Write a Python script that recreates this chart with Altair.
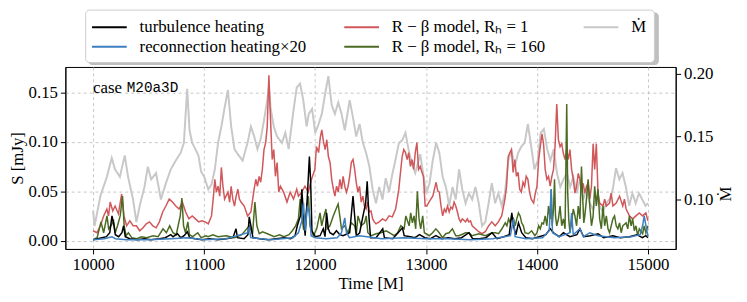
import altair as alt
import pandas as pd

# ---------------- data ----------------
mdot_t = [10000, 10013, 10066, 10124, 10168, 10197, 10241, 10285, 10315, 10360, 10390, 10420, 10463, 10493,
          10523, 10567, 10611, 10656, 10700, 10745, 10789, 10818, 10848, 10869, 10893, 10922, 10949, 10974,
          11002, 11038, 11067, 11097, 11126, 11156, 11185, 11215, 11244, 11274, 11304, 11347, 11392, 11422,
          11452, 11481, 11510, 11540, 11569, 11584, 11599, 11628, 11658, 11702, 11732, 11762, 11806, 11835,
          11865, 11894, 11924, 11943, 11973, 12002, 12032, 12061, 12091, 12120, 12150, 12179, 12209, 12239,
          12268, 12312, 12342, 12371, 12401, 12431, 12460, 12490, 12519, 12549, 12578, 12608, 12637, 12667,
          12696, 12726, 12756, 12785, 12815, 12844, 12874, 12903, 12948, 12975, 13002, 13032, 13061, 13091,
          13120, 13150, 13179, 13209, 13239, 13268, 13298, 13327, 13357, 13386, 13416, 13445, 13475, 13505,
          13534, 13564, 13593, 13623, 13652, 13682, 13711, 13741, 13770, 13800, 13830, 13859, 13889, 13918,
          13948, 13977, 14007, 14033, 14062, 14092, 14121, 14151, 14180, 14210, 14239, 14269, 14299, 14328,
          14358, 14387, 14417, 14446, 14476, 14505, 14535, 14564, 14594, 14623, 14653, 14683, 14712, 14742,
          14771, 14801, 14831, 14860, 14890, 14919, 14949, 14978, 15000]
mdot_v = [0.091, 0.079, 0.103, 0.118, 0.133, 0.124, 0.118, 0.135, 0.118, 0.100, 0.082, 0.095, 0.110, 0.126,
          0.116, 0.121, 0.100, 0.113, 0.124, 0.131, 0.137, 0.145, 0.188, 0.155, 0.145, 0.140, 0.135, 0.122,
          0.118, 0.108, 0.112, 0.124, 0.145, 0.158, 0.173, 0.187, 0.158, 0.140, 0.136, 0.131, 0.145, 0.158,
          0.150, 0.140, 0.148, 0.163, 0.179, 0.190, 0.173, 0.158, 0.150, 0.145, 0.153, 0.140, 0.171, 0.189,
          0.192, 0.179, 0.158, 0.168, 0.172, 0.153, 0.160, 0.168, 0.184, 0.198, 0.175, 0.168, 0.177, 0.168,
          0.155, 0.179, 0.165, 0.150, 0.160, 0.145, 0.137, 0.126, 0.108, 0.097, 0.110, 0.100, 0.117, 0.106,
          0.120, 0.132, 0.145, 0.147, 0.153, 0.139, 0.128, 0.121, 0.136, 0.120, 0.105, 0.113, 0.131, 0.145,
          0.137, 0.118, 0.110, 0.095, 0.110, 0.100, 0.124, 0.108, 0.097, 0.105, 0.100, 0.110, 0.097, 0.079,
          0.082, 0.097, 0.113, 0.097, 0.105, 0.095, 0.105, 0.131, 0.139, 0.126, 0.137, 0.142, 0.145, 0.160,
          0.142, 0.124, 0.131, 0.153, 0.156, 0.140, 0.131, 0.140, 0.121, 0.110, 0.116, 0.121, 0.110, 0.118,
          0.105, 0.116, 0.100, 0.108, 0.097, 0.092, 0.102, 0.095, 0.090, 0.097, 0.100, 0.108, 0.125, 0.116,
          0.121, 0.110, 0.095, 0.105, 0.097, 0.105, 0.100, 0.095, 0.097]

rb1_t = [10000, 10035, 10065, 10095, 10124, 10139, 10154, 10177, 10198, 10228, 10257, 10278, 10302, 10331,
         10361, 10390, 10420, 10450, 10479, 10508, 10538, 10568, 10597, 10627, 10656, 10686, 10715, 10745,
         10775, 10804, 10834, 10863, 10893, 10922, 10952, 10981, 11010, 11038, 11067, 11082, 11097, 11111,
         11126, 11141, 11156, 11170, 11185, 11215, 11230, 11244, 11259, 11274, 11289, 11304, 11318, 11333,
         11362, 11392, 11422, 11451, 11466, 11481, 11496, 11510, 11525, 11540, 11555, 11569, 11584, 11599,
         11614, 11628, 11643, 11658, 11673, 11688, 11717, 11747, 11776, 11806, 11835, 11850, 11880, 11909,
         11939, 11968, 11998, 12013, 12032, 12047, 12061, 12076, 12091, 12106, 12120, 12135, 12150, 12165,
         12179, 12194, 12209, 12224, 12239, 12253, 12268, 12283, 12298, 12312, 12327, 12342, 12357, 12371,
         12386, 12401, 12416, 12431, 12445, 12460, 12475, 12490, 12504, 12519, 12534, 12549, 12578, 12608,
         12637, 12667, 12696, 12726, 12741, 12755, 12770, 12785, 12800, 12815, 12830, 12844, 12859, 12874,
         12889, 12903, 12918, 12933, 12948, 12963, 12977, 12992, 13007, 13032, 13061, 13076, 13091, 13106,
         13120, 13135, 13150, 13165, 13179, 13194, 13209, 13224, 13239, 13253, 13268, 13283, 13298, 13312,
         13327, 13357, 13372, 13386, 13401, 13416, 13445, 13475, 13505, 13534, 13564, 13593, 13623, 13652,
         13682, 13711, 13726, 13741, 13756, 13770, 13785, 13800, 13815, 13830, 13844, 13859, 13874, 13889,
         13903, 13918, 13933, 13948, 13970, 13985, 14000, 14015, 14030, 14045, 14059, 14074, 14089, 14104,
         14119, 14134, 14149, 14164, 14178, 14193, 14208, 14223, 14238, 14253, 14268, 14282, 14297, 14312,
         14327, 14342, 14357, 14372, 14387, 14401, 14416, 14431, 14446, 14461, 14476, 14491, 14506, 14520,
         14535, 14550, 14565, 14595, 14610, 14625, 14654, 14669, 14684, 14714, 14744, 14773, 14788, 14803,
         14833, 14862, 14892, 14922, 14952, 14981, 15000]
rb1_v = [0.010, 0.008, 0.015, 0.025, 0.032, 0.025, 0.039, 0.030, 0.035, 0.027, 0.047, 0.025, 0.015, 0.020,
         0.015, 0.015, 0.010, 0.013, 0.017, 0.019, 0.015, 0.013, 0.019, 0.029, 0.035, 0.042, 0.039, 0.035,
         0.032, 0.039, 0.029, 0.022, 0.025, 0.022, 0.019, 0.020, 0.019, 0.017, 0.025, 0.042, 0.062, 0.049,
         0.055, 0.045, 0.074, 0.055, 0.042, 0.049, 0.039, 0.055, 0.042, 0.035, 0.045, 0.052, 0.042, 0.039,
         0.035, 0.025, 0.029, 0.052, 0.062, 0.055, 0.065, 0.059, 0.072, 0.092, 0.099, 0.115, 0.167, 0.122,
         0.082, 0.092, 0.065, 0.079, 0.049, 0.055, 0.049, 0.039, 0.049, 0.042, 0.052, 0.045, 0.049, 0.055,
         0.049, 0.062, 0.072, 0.095, 0.089, 0.104, 0.112, 0.100, 0.092, 0.102, 0.085, 0.079, 0.062, 0.052,
         0.045, 0.055, 0.049, 0.062, 0.052, 0.065, 0.055, 0.049, 0.055, 0.065, 0.079, 0.082, 0.072, 0.059,
         0.049, 0.055, 0.039, 0.045, 0.035, 0.032, 0.039, 0.029, 0.030, 0.022, 0.019, 0.017, 0.019, 0.022,
         0.020, 0.025, 0.024, 0.032, 0.042, 0.052, 0.069, 0.085, 0.092, 0.089, 0.082, 0.089, 0.075, 0.082,
         0.072, 0.089, 0.099, 0.072, 0.075, 0.069, 0.065, 0.035, 0.035, 0.040, 0.045, 0.052, 0.059, 0.050,
         0.049, 0.035, 0.025, 0.032, 0.029, 0.035, 0.029, 0.034, 0.032, 0.039, 0.035, 0.029, 0.022, 0.019,
         0.022, 0.019, 0.022, 0.019, 0.020, 0.015, 0.012, 0.009, 0.007, 0.009, 0.015, 0.019, 0.015, 0.019,
         0.025, 0.042, 0.055, 0.085, 0.089, 0.092, 0.069, 0.082, 0.065, 0.069, 0.052, 0.049, 0.059, 0.055,
         0.065, 0.062, 0.049, 0.042, 0.038, 0.048, 0.055, 0.082, 0.095, 0.108, 0.098, 0.072, 0.062, 0.065,
         0.055, 0.065, 0.072, 0.098, 0.138, 0.102, 0.095, 0.098, 0.088, 0.082, 0.092, 0.082, 0.092, 0.072,
         0.062, 0.048, 0.055, 0.068, 0.062, 0.052, 0.058, 0.048, 0.055, 0.058, 0.042, 0.055, 0.098, 0.072,
         0.098, 0.048, 0.038, 0.035, 0.042, 0.035, 0.038, 0.048, 0.035, 0.038, 0.045, 0.035, 0.042, 0.032,
         0.025, 0.022, 0.025, 0.028, 0.025, 0.028, 0.020]

rb160_t = [10000, 10036, 10071, 10095, 10125, 10140, 10161, 10184, 10199, 10220, 10244, 10265, 10280, 10297,
           10318, 10348, 10393, 10437, 10482, 10541, 10586, 10630, 10660, 10690, 10720, 10749, 10785, 10800,
           10815, 10833, 10854, 10868, 10898, 10943, 10973, 11017, 11036, 11080, 11125, 11200, 11274, 11340,
           11407, 11437, 11458, 11476, 11497, 11527, 11571, 11631, 11680, 11720, 11765, 11795, 11825, 11850,
           11866, 11881, 11896, 11911, 11926, 11940, 11955, 11985, 12015, 12045, 12060, 12074, 12098, 12110,
           12134, 12164, 12193, 12208, 12223, 12238, 12268, 12297, 12327, 12357, 12372, 12387, 12416, 12446,
           12461, 12476, 12506, 12550, 12595, 12640, 12684, 12714, 12744, 12773, 12803, 12818, 12848, 12862,
           12877, 12892, 12907, 12922, 12937, 12952, 12970, 12985, 13030, 13059, 13089, 13119, 13149, 13178,
           13208, 13238, 13268, 13297, 13357, 13387, 13416, 13476, 13535, 13595, 13625, 13654, 13684, 13714,
           13729, 13744, 13759, 13773, 13788, 13803, 13818, 13833, 13848, 13862, 13877, 13892, 13922, 13952,
           13981, 14000, 14015, 14030, 14045, 14059, 14074, 14089, 14104, 14119, 14128, 14137, 14149, 14158,
           14167, 14178, 14193, 14208, 14223, 14238, 14253, 14268, 14277, 14286, 14297, 14312, 14327, 14342,
           14357, 14372, 14387, 14401, 14410, 14422, 14431, 14446, 14461, 14476, 14491, 14506, 14520, 14535,
           14550, 14565, 14580, 14595, 14610, 14625, 14640, 14654, 14669, 14684, 14699, 14714, 14729, 14744,
           14759, 14773, 14803, 14818, 14833, 14848, 14862, 14877, 14892, 14907, 14922, 14952, 14966, 14981,
           15000]
rb160_v = [0.001, 0.003, 0.019, 0.008, 0.025, 0.012, 0.015, 0.020, 0.008, 0.015, 0.025, 0.045, 0.015, 0.005,
           0.008, 0.003, 0.002, 0.004, 0.003, 0.005, 0.004, 0.012, 0.008, 0.015, 0.008, 0.006, 0.025, 0.043,
           0.015, 0.008, 0.019, 0.006, 0.004, 0.008, 0.003, 0.005, 0.004, 0.006, 0.004, 0.005, 0.003, 0.006,
           0.015, 0.007, 0.039, 0.015, 0.007, 0.009, 0.007, 0.004, 0.006, 0.004, 0.006, 0.010, 0.015, 0.022,
           0.042, 0.025, 0.012, 0.015, 0.035, 0.045, 0.015, 0.005, 0.012, 0.028, 0.015, 0.022, 0.032, 0.012,
           0.015, 0.025, 0.033, 0.037, 0.025, 0.012, 0.015, 0.008, 0.018, 0.015, 0.007, 0.025, 0.015, 0.018,
           0.025, 0.008, 0.005, 0.007, 0.008, 0.010, 0.007, 0.005, 0.008, 0.015, 0.012, 0.025, 0.015, 0.028,
           0.018, 0.025, 0.012, 0.050, 0.022, 0.012, 0.025, 0.008, 0.005, 0.008, 0.012, 0.008, 0.003, 0.007,
           0.008, 0.012, 0.005, 0.005, 0.008, 0.008, 0.005, 0.007, 0.005, 0.008, 0.008, 0.007, 0.012, 0.018,
           0.015, 0.022, 0.018, 0.025, 0.022, 0.015, 0.022, 0.028, 0.025, 0.018, 0.015, 0.008, 0.007, 0.010,
           0.005, 0.008, 0.015, 0.012, 0.018, 0.017, 0.025, 0.015, 0.035, 0.022, 0.052, 0.015, 0.032, 0.062,
           0.025, 0.015, 0.022, 0.035, 0.015, 0.022, 0.012, 0.138, 0.048, 0.022, 0.008, 0.018, 0.032, 0.025,
           0.015, 0.035, 0.022, 0.075, 0.048, 0.018, 0.025, 0.042, 0.062, 0.035, 0.015, 0.025, 0.055, 0.035,
           0.052, 0.022, 0.012, 0.035, 0.015, 0.025, 0.012, 0.008, 0.015, 0.022, 0.025, 0.015, 0.012, 0.018,
           0.008, 0.015, 0.018, 0.012, 0.025, 0.015, 0.022, 0.010, 0.015, 0.005, 0.012, 0.007, 0.015, 0.008,
           0.015]

turb_t = [10000, 10040, 10080, 10120, 10150, 10170, 10184, 10200, 10230, 10260, 10274, 10290, 10330, 10400,
          10460, 10520, 10600, 10650, 10700, 10720, 10760, 10790, 10820, 10850, 10870, 10920, 10980, 11050,
          11120, 11200, 11260, 11288, 11300, 11360, 11395, 11407, 11422, 11440, 11500, 11580, 11650, 11720,
          11780, 11820, 11840, 11868, 11881, 11896, 11911, 11926, 11949, 11960, 11972, 12000, 12045, 12074,
          12090, 12104, 12120, 12134, 12164, 12193, 12223, 12253, 12312, 12342, 12357, 12372, 12402, 12432,
          12456, 12470, 12485, 12500, 12550, 12610, 12625, 12700, 12788, 12803, 12860, 12900, 12941, 12990,
          13040, 13089, 13140, 13200, 13260, 13320, 13387, 13420, 13480, 13540, 13595, 13640, 13700, 13750,
          13773, 13788, 13810, 13833, 13862, 13900, 13960, 14020, 14080, 14119, 14149, 14200, 14238, 14297,
          14360, 14387, 14420, 14480, 14550, 14600, 14684, 14750, 14833, 14900, 14950, 14981, 15000]
turb_v = [0.001, 0.002, 0.003, 0.004, 0.008, 0.025, 0.018, 0.006, 0.004, 0.008, 0.015, 0.004, 0.002, 0.001,
          0.002, 0.001, 0.002, 0.003, 0.006, 0.004, 0.007, 0.003, 0.005, 0.009, 0.003, 0.002, 0.001, 0.002,
          0.001, 0.002, 0.003, 0.012, 0.003, 0.002, 0.006, 0.024, 0.015, 0.003, 0.002, 0.001, 0.002, 0.003,
          0.002, 0.005, 0.015, 0.025, 0.052, 0.025, 0.005, 0.035, 0.085, 0.060, 0.010, 0.004, 0.005, 0.012,
          0.004, 0.028, 0.012, 0.008, 0.006, 0.010, 0.006, 0.005, 0.008, 0.045, 0.025, 0.005, 0.008, 0.025,
          0.038, 0.060, 0.025, 0.003, 0.003, 0.012, 0.003, 0.002, 0.013, 0.005, 0.004, 0.003, 0.006, 0.003,
          0.002, 0.005, 0.002, 0.003, 0.002, 0.003, 0.008, 0.002, 0.002, 0.003, 0.008, 0.002, 0.004, 0.006,
          0.028, 0.015, 0.006, 0.018, 0.008, 0.003, 0.002, 0.004, 0.006, 0.012, 0.008, 0.004, 0.008, 0.004,
          0.006, 0.012, 0.004, 0.005, 0.007, 0.003, 0.005, 0.003, 0.004, 0.006, 0.003, 0.005, 0.003]

recon_t = [10000, 10100, 10170, 10200, 10300, 10500, 10700, 10850, 11000, 11200, 11395, 11407, 11420, 11600,
           11800, 11850, 11881, 11896, 11911, 11932, 11949, 11965, 12000, 12100, 12200, 12238, 12268, 12283,
           12310, 12400, 12470, 12600, 12800, 13000, 13200, 13400, 13600, 13760, 13788, 13803, 13900, 14050,
           14110, 14128, 14140, 14200, 14297, 14312, 14327, 14387, 14420, 14476, 14550, 14700, 14850, 14930,
           14952, 14966, 15000]
recon_v = [0.001, 0.002, 0.004, 0.002, 0.001, 0.001, 0.002, 0.003, 0.001, 0.002, 0.008, 0.014, 0.003, 0.001,
           0.003, 0.008, 0.020, 0.038, 0.010, 0.035, 0.028, 0.005, 0.003, 0.002, 0.003, 0.008, 0.023, 0.008,
           0.003, 0.005, 0.004, 0.002, 0.003, 0.002, 0.002, 0.001, 0.002, 0.005, 0.022, 0.004, 0.002, 0.003,
           0.010, 0.052, 0.008, 0.004, 0.008, 0.028, 0.006, 0.012, 0.004, 0.008, 0.005, 0.003, 0.004, 0.006,
           0.015, 0.025, 0.004]

# legend labels / colours (legend fills column by column: 2 rows x 3 columns)
L_TURB = "turbulence heating"
L_RECON = "reconnection heating×20"
L_RB1 = "R − β model, Rₕ = 1"
L_RB160 = "R − β model, Rₕ = 160"
L_MDOT = "Ṁ"
legend_order = [L_TURB, L_RECON, L_RB1, L_RB160, L_MDOT]
legend_colors = ["#000000", "#3d7fc1", "#d0575a", "#4b6b23", "#c8c8c8"]

x_ticks = [10000, 11000, 12000, 13000, 14000, 15000]
s_ticks = [0.0, 0.05, 0.10, 0.15]
m_ticks = [0.10, 0.15, 0.20]

SERIF = "'Liberation Serif', 'Times New Roman', serif"
MONO = "'Liberation Mono', 'Courier New', monospace"

def frame(ts, vs, name):
    return pd.DataFrame({"t": ts, "v": vs, "series": [name] * len(ts)})

cscale = alt.Scale(domain=legend_order, range=legend_colors)
leg = alt.Legend(title=None, orient="none", legendX=20, legendY=-58, columns=3,
                 gridAlign="each",
                 symbolType="M-1.85,0H1.85", symbolSize=360, symbolStrokeWidth=2,
                 symbolOffset=7, labelOffset=20, labelFont=SERIF, labelFontSize=17,
                 labelColor="black", labelLimit=500, columnPadding=33, rowPadding=1,
                 padding=7, fillColor="white", strokeColor="#cccccc", cornerRadius=4)

xenc = alt.X("t:Q", scale=alt.Scale(domain=[9750, 15250], nice=False, zero=False),
             axis=alt.Axis(title="Time [M]", values=x_ticks, format="d", grid=True,
                           labelFlush=False, titlePadding=3))
yS = alt.Y("v:Q", scale=alt.Scale(domain=[-0.0084, 0.1755], nice=False, zero=False),
           axis=alt.Axis(title="S [mJy]", values=s_ticks, format=".2f", grid=True,
                         titlePadding=2))
yM = alt.Y("v:Q", scale=alt.Scale(domain=[0.0607, 0.2053], nice=False, zero=False),
           axis=alt.Axis(title="Ṁ", orient="right", values=m_ticks, format=".2f", grid=False,
                         titleAngle=270, titleX=50, titleY=128, titleAlign="center",
                         titleBaseline="middle"))
col = alt.Color("series:N", scale=cscale, legend=leg)

def line(df, width=1.5):
    return alt.Chart(df).mark_line(strokeWidth=width).encode(x=xenc, y=yS, color=col)

gray = alt.Chart(frame(mdot_t, mdot_v, L_MDOT)).mark_line(strokeWidth=2).encode(
    x=xenc, y=yM, color=col)

shadow = alt.Chart(pd.DataFrame({"a": [0]})).mark_rect(
    color="#8a8a8a", opacity=0.55, cornerRadius=4).encode(
    x=alt.value(23), x2=alt.value(600), y=alt.value(-55), y2=alt.value(-2))

txt_case = alt.Chart(pd.DataFrame({"s": ["case"]})).mark_text(
    align="left", baseline="middle", font=SERIF, fontSize=17, color="black").encode(
    x=alt.value(28), y=alt.value(21), text="s:N")
txt_run = alt.Chart(pd.DataFrame({"s": ["M20a3D"]})).mark_text(
    align="left", baseline="middle", font=MONO, fontSize=14.5, color="black").encode(
    x=alt.value(62), y=alt.value(21), text="s:N")

left = alt.layer(
    line(frame(rb1_t, rb1_v, L_RB1)),
    line(frame(rb160_t, rb160_v, L_RB160)),
    line(frame(turb_t, turb_v, L_TURB)),
    line(frame(recon_t, recon_v, L_RECON)),
    shadow, txt_case, txt_run,
)

chart = alt.layer(gray, left).resolve_scale(y="independent").properties(
    width=617, height=184,
    padding={"left": 58, "top": 58, "right": 64, "bottom": 52},
    autosize=alt.AutoSizeParams(type="none"),
).configure_view(stroke="black", strokeWidth=1).configure_axis(
    labelFont=SERIF, titleFont=SERIF, labelFontSize=17, titleFontSize=17,
    titleFontWeight="normal", labelColor="black", titleColor="black",
    domainColor="black", tickColor="black", tickSize=5, labelPadding=3,
    gridColor="#b8b8b8", gridDash=[3, 3], gridWidth=0.8,
)

chart.save("out.html", embed_options={"renderer": "svg", "actions": False})
